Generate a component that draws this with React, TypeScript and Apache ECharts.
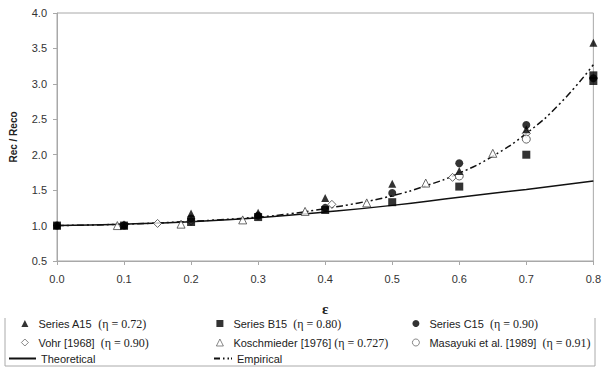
import React, { useEffect, useRef } from "react";
import * as echarts from "echarts";

const seriesA15: number[][] = [[0, 1.0], [0.1, 1.0], [0.2, 1.17], [0.3, 1.18], [0.4, 1.39], [0.5, 1.59], [0.6, 1.77], [0.7, 2.36], [0.8, 3.58]];
const seriesB15: number[][] = [[0, 1.0], [0.1, 1.0], [0.2, 1.05], [0.3, 1.12], [0.4, 1.22], [0.5, 1.33], [0.6, 1.55], [0.7, 2.0], [0.8, 3.12], [0.8, 3.04]];
const seriesC15: number[][] = [[0, 1.0], [0.1, 1.0], [0.2, 1.1], [0.3, 1.14], [0.4, 1.25], [0.5, 1.46], [0.6, 1.88], [0.7, 2.42], [0.8, 3.08]];
const vohr: number[][] = [[0.1, 1.01], [0.15, 1.03], [0.2, 1.06], [0.41, 1.3], [0.59, 1.68], [0.7, 2.3]];
const koschmieder: number[][] = [[0.09, 1.0], [0.185, 1.02], [0.277, 1.08], [0.37, 1.2], [0.462, 1.32], [0.55, 1.6], [0.65, 2.02]];
const masayuki: number[][] = [[0.6, 1.7], [0.7, 2.22]];
const theoretical: number[][] = [[0, 1.0], [0.1, 1.02], [0.2, 1.055], [0.3, 1.11], [0.4, 1.19], [0.5, 1.285], [0.6, 1.4], [0.7, 1.51], [0.8, 1.63]];
const empirical: number[][] = [[0, 1.0], [0.1, 1.02], [0.2, 1.06], [0.3, 1.12], [0.35, 1.17], [0.4, 1.24], [0.45, 1.32], [0.5, 1.42], [0.55, 1.56], [0.6, 1.74], [0.65, 1.98], [0.7, 2.3], [0.75, 2.72], [0.8, 3.27]];

const names = {
  a: "Series A15  (η = 0.72)",
  b: "Series B15  (η = 0.80)",
  c: "Series C15  (η = 0.90)",
  v: "Vohr [1968]  (η = 0.90)",
  k: "Koschmieder [1976] (η = 0.727)",
  m: "Masayuki et al. [1989]  (η = 0.91)",
  t: "Theoretical",
  e: "Empirical",
};

const FONT = "Liberation Sans, Arial, sans-serif";
const SERIF = "Liberation Serif, Times New Roman, serif";

function legendFormatter(name: string) {
  const i = name.indexOf("(");
  if (i < 0) return name;
  return name.slice(0, i) + "{e|" + name.slice(i) + "}";
}

const legendText = {
  fontFamily: FONT,
  fontSize: 11,
  color: "#222",
  lineHeight: 13,
  rich: { e: { fontFamily: SERIF, fontSize: 12, color: "#222", lineHeight: 13 } },
};

function markerLegend(left: number, data: string[]) {
  return {
    orient: "vertical",
    left,
    top: 317,
    padding: 0,
    itemWidth: 7,
    itemHeight: 7,
    itemGap: 6,
    data,
    formatter: legendFormatter,
    selectedMode: false,
    itemStyle: { borderWidth: 0.8 },
    textStyle: { ...legendText, padding: [0, 0, 0, 5] },
  };
}

function lineLegend(left: number, width: number, item: any) {
  return {
    orient: "vertical",
    left,
    top: 352,
    padding: 0,
    itemWidth: width,
    itemHeight: 2,
    data: [item],
    selectedMode: false,
    textStyle: { ...legendText, padding: [0, 0, 0, 0] },
  };
}

export default function App() {
  const ref = useRef<HTMLDivElement>(null);
  useEffect(() => {
    if (!ref.current) return;
    const chart = echarts.init(ref.current, null, { renderer: "svg" });
    const filled = { color: "#000" };
    const open = { color: "#fff", borderColor: "#444", borderWidth: 1 };
    chart.setOption({
      animation: false,
      backgroundColor: "#fff",
      grid: { left: 51, right: 4, top: 13, bottom: 106, show: true, borderColor: "#a8a8a8", borderWidth: 1 },
      xAxis: {
        type: "value",
        min: 0,
        max: 0.8,
        interval: 0.1,
        name: "ε",
        nameLocation: "middle",
        nameGap: 40,
        nameTextStyle: { fontFamily: SERIF, fontWeight: "bold", fontSize: 15, color: "#222" },
        axisLine: { lineStyle: { color: "#a8a8a8" } },
        axisTick: { show: true, length: 4, lineStyle: { color: "#a8a8a8" } },
        splitLine: { show: false },
        axisLabel: { fontFamily: FONT, fontSize: 11, color: "#333", margin: 12, formatter: (v: number) => v.toFixed(1) },
      },
      yAxis: {
        type: "value",
        min: 0.5,
        max: 4.0,
        interval: 0.5,
        name: "Rec / Reco",
        nameLocation: "middle",
        nameGap: 39,
        nameTextStyle: { fontFamily: FONT, fontWeight: "bold", fontSize: 10, color: "#222" },
        axisLine: { show: true, lineStyle: { color: "#a8a8a8" } },
        axisTick: { show: true, length: 4, lineStyle: { color: "#a8a8a8" } },
        splitLine: { show: false },
        axisLabel: { fontFamily: FONT, fontSize: 11, color: "#333", margin: 10, formatter: (v: number) => v.toFixed(1) },
      },
      legend: [
        markerLegend(21, [names.a, names.v]),
        markerLegend(216, [names.b, names.k]),
        markerLegend(412, [names.c, names.m]),
        lineLegend(9, 27, { name: names.t, icon: "path://M0,0H27V2H0Z", itemStyle: { color: "#111" } }),
        lineLegend(214, 18, {
          name: names.e,
          icon: "path://M0,0H6V2H0Z M9,0H10.5V2H9Z M13.5,0H15V2H13.5Z M17,0H18V2H17Z",
          itemStyle: { color: "#111" },
        }),
      ],
      graphic: [
        {
          type: "polyline",
          shape: { points: [[5, 318], [5, 366], [595, 366], [595, 318]] },
          style: { stroke: "#aaa", lineWidth: 1, fill: null },
          silent: true,
        },
      ],
      series: [
        { name: names.t, type: "line", data: theoretical, smooth: true, showSymbol: false, symbol: "none", lineStyle: { color: "#111", width: 1.5 }, itemStyle: { color: "#111" }, z: 2 },
        { name: names.e, type: "line", data: empirical, smooth: true, showSymbol: false, symbol: "none", lineStyle: { color: "#111", width: 1.5, type: [7, 3, 2, 3, 2, 3] }, itemStyle: { color: "#111" }, z: 2 },
        { name: names.k, type: "scatter", data: koschmieder, symbol: "triangle", symbolSize: 8, itemStyle: open, z: 3 },
        { name: names.v, type: "scatter", data: vohr, symbol: "diamond", symbolSize: 8, itemStyle: open, z: 3 },
        { name: names.m, type: "scatter", data: masayuki, symbol: "circle", symbolSize: 8, itemStyle: open, z: 3 },
        { name: names.a, type: "scatter", data: seriesA15, symbol: "triangle", symbolSize: 8, itemStyle: filled, z: 4 },
        { name: names.c, type: "scatter", data: seriesC15, symbol: "circle", symbolSize: 8, itemStyle: filled, z: 4 },
        { name: names.b, type: "scatter", data: seriesB15, symbol: "rect", symbolSize: 8, itemStyle: filled, z: 4 },
      ],
    });
    return () => chart.dispose();
  }, []);
  return <div ref={ref} style={{ position: "fixed", left: 0, top: 0, width: 604, height: 367 }} />;
}
